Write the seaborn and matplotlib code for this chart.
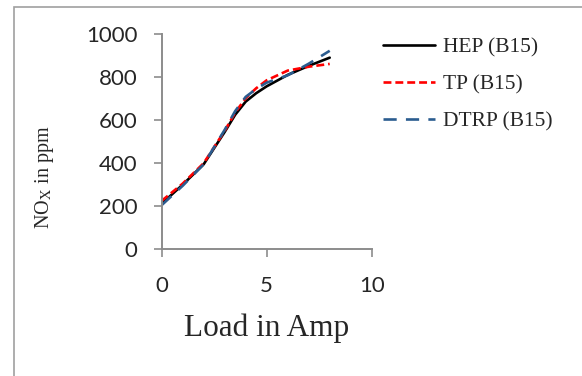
import pandas as pd
import matplotlib
matplotlib.use('Agg')
import matplotlib.pyplot as plt
import matplotlib.patches as patches
import seaborn as sns

# NOx vs load
load = [0, 1, 2, 3, 3.5, 4, 4.5, 5, 6, 7, 8]
hep = [212, 300, 395, 545, 625, 686, 725, 757, 810, 852, 890]
tp = [225, 305, 400, 550, 635, 702, 748, 785, 830, 848, 861]
dtrp = [205, 295, 395, 555, 642, 708, 745, 774, 808, 862, 922]
labels = ['HEP (B15)', 'TP (B15)', 'DTRP (B15)']

df = pd.concat([
    pd.DataFrame({'load': load, 'nox': vals, 'fuel': lab})
    for vals, lab in zip([hep, tp, dtrp], labels)
])

sns.set_style('white')
plt.rcParams['mathtext.fontset'] = 'stix'
axis_grey = '#8c8c8c'

fig = plt.figure(figsize=(5.82, 3.76), dpi=100)
ax = fig.add_axes([0.2778, 0.337, 0.3609, 0.5726])

styles = {
    'HEP (B15)': dict(color='black', linestyle='-'),
    'TP (B15)': dict(color='#ff0000', dashes=(3, 1.5)),
    'DTRP (B15)': dict(color='#2b5c8f', dashes=(5, 3.5)),
}
for lab in labels:
    sns.lineplot(data=df[df['fuel'] == lab], x='load', y='nox', ax=ax,
                 linewidth=1.9, label=lab, **styles[lab])

ax.set_xlim(0, 10)
ax.set_ylim(0, 1000)
ax.set_xticks([0, 5, 10])
ax.set_yticks(range(0, 1001, 200))
sns.despine(ax=ax)
for s in ['left', 'bottom']:
    ax.spines[s].set_color(axis_grey)
    ax.spines[s].set_linewidth(1.4)
ax.tick_params(axis='both', direction='out', length=5.5, width=1.2,
               color=axis_grey, labelsize=16)
ax.tick_params(axis='y', pad=12, left=True)
ax.tick_params(axis='x', pad=14, bottom=True)
for t in ax.get_xticklabels() + ax.get_yticklabels():
    t.set_family('Lato')

ax.set_xlabel('Load in Amp', fontsize=22.5, family='Liberation Serif', labelpad=12)
ax.set_ylabel(r'NO$_{\rm X}$ in ppm', fontsize=14.5, family='Liberation Serif')
ax.yaxis.set_label_coords((56 - 161.7) / 210, (376 - 177 - 126.7) / 215.3)

ax.legend(loc='upper left', bbox_to_anchor=(383 / 582, 1 - 37 / 376),
          bbox_transform=fig.transFigure, frameon=False, borderpad=0,
          borderaxespad=0, handlelength=2.4, handletextpad=0.4,
          labelspacing=0.8, prop={'family': 'Liberation Serif', 'size': 15.5})

# chart-area border (cut off at right and bottom in the reference)
fig.patches.append(patches.Rectangle((14 / 582, -0.1), 2, 369 / 376 + 0.1,
                                     transform=fig.transFigure, fill=False,
                                     edgecolor='#a0a0a0', linewidth=1.2))

fig.savefig('out.png', dpi=100)
